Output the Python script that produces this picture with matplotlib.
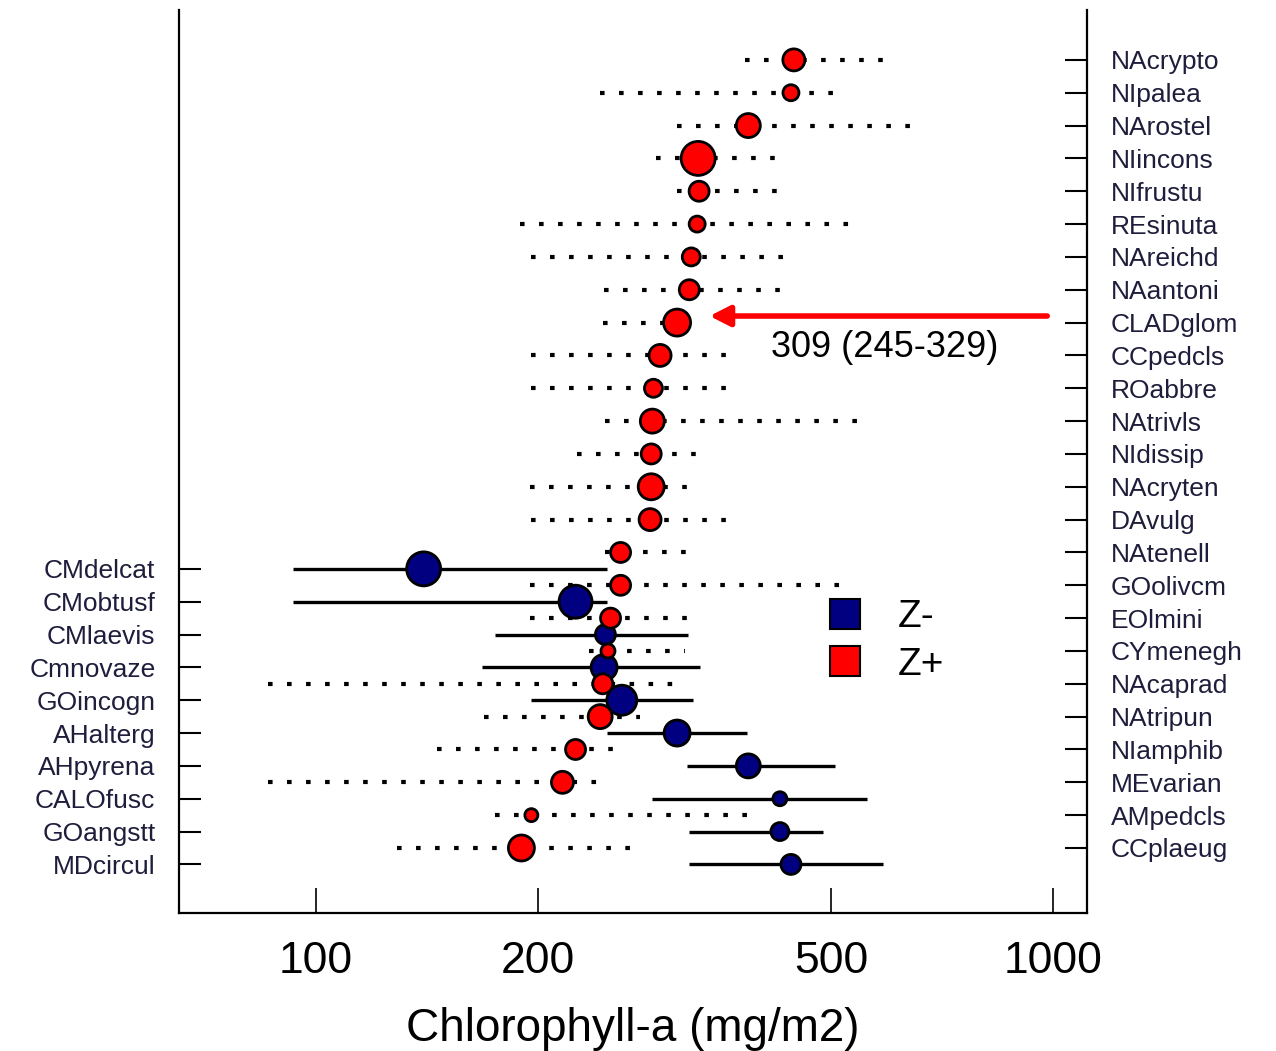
import numpy as np
import matplotlib
matplotlib.use('Agg')
import matplotlib.pyplot as plt
from matplotlib.lines import Line2D
from matplotlib.ticker import NullLocator

plt.rcParams['font.family'] = ['Liberation Sans', 'DejaVu Sans']
plt.rcParams['lines.scale_dashes'] = False

## DATA ##
# Z+ taxa (right axis), bottom to top
zplus_taxa = ['CCplaeug', 'AMpedcls', 'MEvarian', 'NIamphib', 'NAtripun',
              'NAcaprad', 'CYmenegh', 'EOlmini', 'GOolivcm', 'NAtenell',
              'DAvulg', 'NAcryten', 'NIdissip', 'NAtrivls', 'ROabbre',
              'CCpedcls', 'CLADglom', 'NAantoni', 'NAreichd', 'REsinuta',
              'NIfrustu', 'NIincons', 'NArostel', 'NIpalea', 'NAcrypto']
zplus_opt = [190, 196, 216, 225, 243, 245, 249, 251, 259, 259, 284, 285, 285,
             286, 287, 293, 309, 321, 323, 329, 331, 330, 386, 441, 445]
zplus_lo = [129, 175, 86, 146, 169, 86, 235, 195, 195, 247, 196, 195, 226,
            247, 196, 196, 245, 246, 196, 189, 309, 289, 309, 243, 382]
zplus_hi = [269, 388, 241, 256, 275, 310, 317, 320, 522, 320, 365, 320, 329,
            547, 365, 365, 329, 430, 436, 539, 426, 424, 650, 511, 588]
zplus_n = [26, 13, 22, 20, 24, 20, 14, 20, 20, 20, 22, 26, 20, 24, 18, 22,
           27, 20, 18, 16, 20, 34, 24, 16, 22]

# Z- taxa (left axis), bottom to top
zminus_taxa = ['MDcircul', 'GOangstt', 'CALOfusc', 'AHpyrena', 'AHalterg',
               'GOincogn', 'Cmnovaze', 'CMlaevis', 'CMobtusf', 'CMdelcat']
zminus_opt = [441, 426, 426, 386, 309, 260, 246, 247, 225, 140]
zminus_lo = [321, 321, 286, 319, 248, 196, 168, 175, 93, 93]
zminus_hi = [588, 488, 559, 506, 384, 325, 332, 320, 248, 248]
zminus_n = [20, 18, 14, 24, 26, 30, 26, 20, 33, 34]

xticks = [100, 200, 500, 1000]

# positions: Z+ on whole rows, Z- on half rows
yp = np.arange(len(zplus_taxa))
ym = np.arange(len(zminus_taxa)) - 0.5
ylim = (-1.98, 25.52)

fig = plt.figure(figsize=(12.76, 10.51), dpi=100)
ax = fig.add_axes([0.1403, 0.1313, 0.7116, 0.8592])

navy = '#000080'
lblcol = '#1e1e3c'

# Z- intervals and optima
ax.hlines(ym, zminus_lo, zminus_hi, colors='black', lw=2.4, zorder=2)
# Z+ intervals (dotted)
ax.hlines(yp, zplus_lo, zplus_hi, colors='black', lw=3.0,
          linestyles=[(0, (3.3, 10.4))], zorder=2.5)
ax.scatter(zminus_opt, ym, s=(np.array(zminus_n) * 0.72) ** 2, c=navy,
           edgecolors='black', linewidths=2.0, zorder=3)
ax.scatter(zplus_opt, yp, s=(np.array(zplus_n) * 0.72) ** 2, c='red',
           edgecolors='black', linewidths=2.0, zorder=4)

ax.set_xscale('log')
ax.set_xlim(65.2, 1112)
ax.set_ylim(*ylim)
ax.set_xticks(xticks)
ax.set_xticklabels([str(t) for t in xticks])
ax.xaxis.set_minor_locator(NullLocator())
ax.set_yticks(ym)
ax.set_yticklabels(zminus_taxa, color=lblcol)
ax.tick_params(axis='y', direction='in', length=16, width=1.5,
               labelsize=19, pad=17)
ax.tick_params(axis='x', direction='in', length=18, width=1.2,
               labelsize=32, pad=20)
ax.set_xlabel('Chlorophyll-a (mg/m2)', fontsize=33, labelpad=18)

ax2 = ax.twinx()
ax2.set_ylim(*ylim)
ax2.set_yticks(yp)
ax2.set_yticklabels(zplus_taxa, color=lblcol)
ax2.tick_params(axis='y', direction='in', length=16, width=1.5,
                labelsize=19, pad=17)

for a in (ax, ax2):
    a.spines['top'].set_visible(False)
    for s in a.spines.values():
        s.set_linewidth(1.6)
ax.spines['right'].set_visible(False)
ax2.spines['left'].set_visible(False)
ax2.spines['bottom'].set_visible(False)

# annotation for CLADglom
ax.annotate('', xy=(342, 16.2), xytext=(982, 16.2),
            arrowprops=dict(arrowstyle='-|>,head_length=0.55,head_width=0.28',
                            color='red', lw=4, mutation_scale=22,
                            shrinkA=0, shrinkB=0), zorder=6)
ax.text(414, 15.23, '309 (245-329)', fontsize=26, ha='left', va='center')

handles = [Line2D([], [], marker='s', ls='none', markersize=22,
                  markerfacecolor=navy, markeredgecolor='black',
                  markeredgewidth=1.5),
           Line2D([], [], marker='s', ls='none', markersize=22,
                  markerfacecolor='red', markeredgecolor='black',
                  markeredgewidth=1.5)]
ax.legend(handles, ['Z-', 'Z+'], loc='center', bbox_to_anchor=(0.767, 0.301),
          frameon=False, fontsize=28, handletextpad=0.35, labelspacing=0.3)

fig.savefig('out.png', dpi=100)
